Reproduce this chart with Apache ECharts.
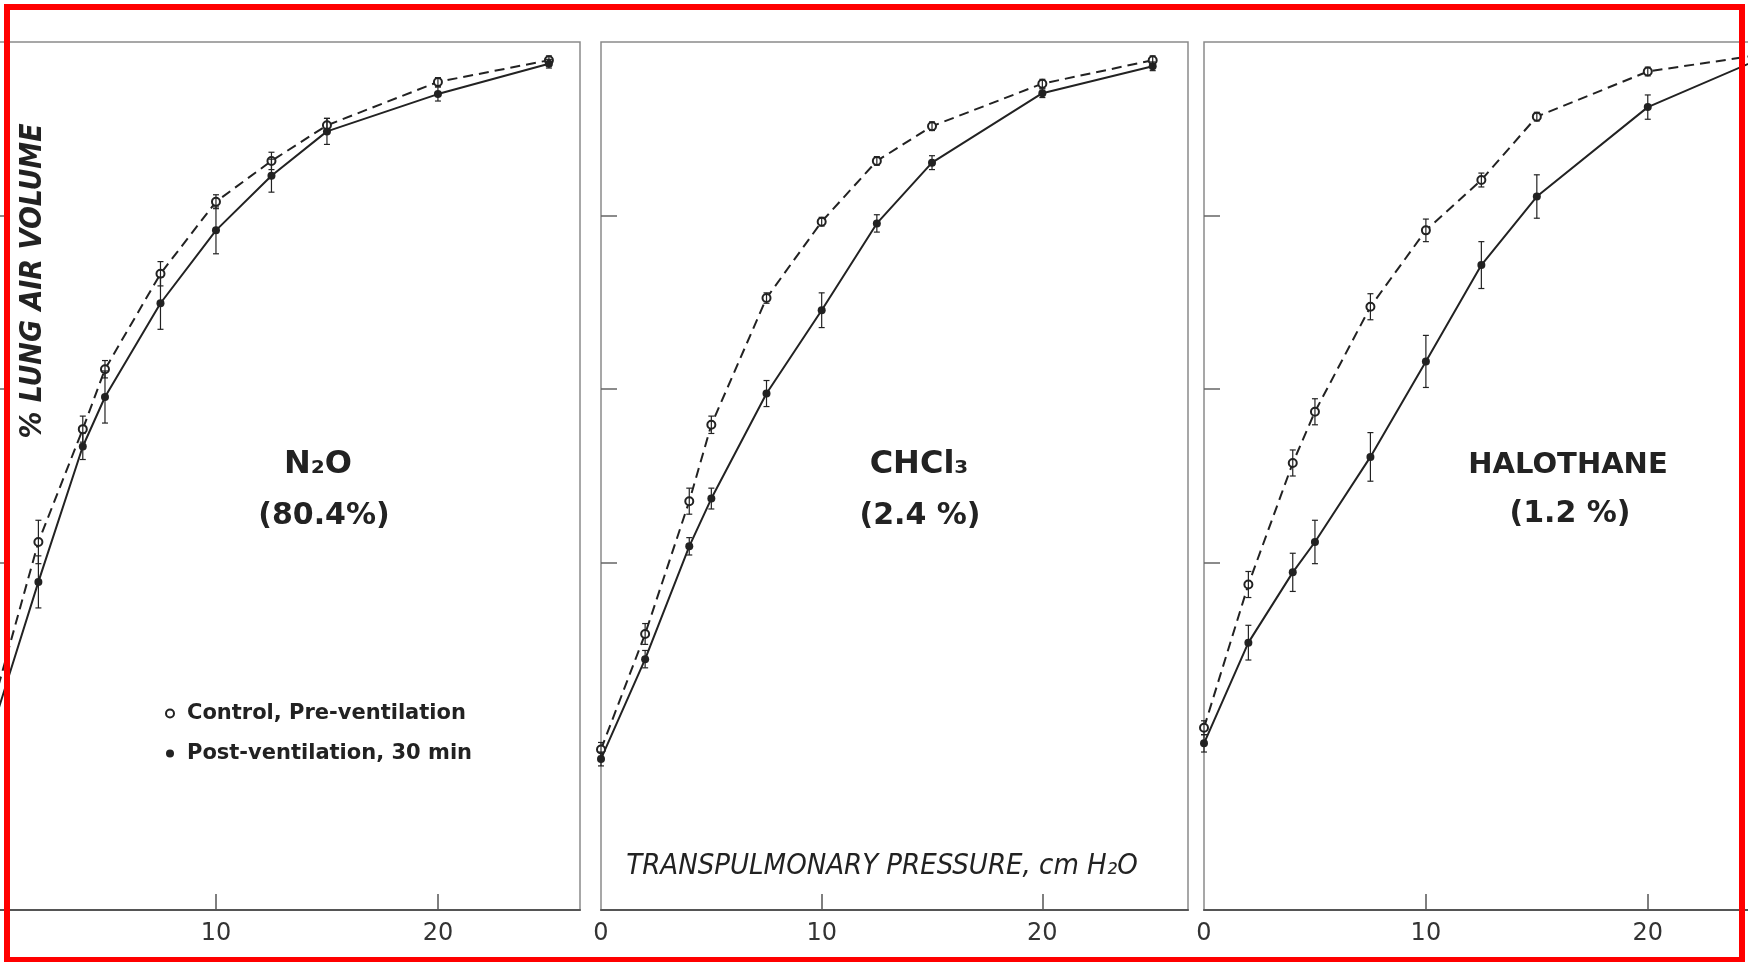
<!DOCTYPE html>
<html lang="en">
<head>
    <meta charset="UTF-8">
    <title>Lung air volume vs transpulmonary pressure</title>
    <style>
        html, body { margin: 0; padding: 0; background: #fff; }
    </style>
</head>
<body>
<script src="https://cdn.jsdelivr.net/npm/echarts@6/dist/echarts.min.js"></script>
<div id="main" style="width: 1748px;height:962px;"></div>
<script type="text/javascript">
    // transpulmonary pressure, cm H2O
    var pressure = [0, 2, 4, 5, 7.5, 10, 12.5, 15, 20, 25];

    // % lung air volume
    var n2oControl = [24.0, 42.4, 55.4, 62.3, 73.3, 81.6, 86.3, 90.4, 95.4, 97.9];
    var n2oPost = [21.5, 37.8, 53.4, 59.1, 69.9, 78.3, 84.6, 89.7, 94.0, 97.5];
    var n2oControlErr = [0, 2.5, 1.5, 1.0, 1.4, 0.8, 1.0, 0.8, 0.5, 0.5];
    var n2oPostErr = [0, 3.0, 1.5, 3.0, 3.0, 2.7, 1.9, 1.5, 0.8, 0.5];

    var chcl3Control = [18.5, 31.8, 47.1, 55.9, 70.5, 79.3, 86.3, 90.3, 95.2, 97.9];
    var chcl3Post = [17.4, 28.9, 41.9, 47.4, 59.5, 69.1, 79.1, 86.1, 94.1, 97.2];
    var chcl3ControlErr = [0.8, 1.2, 1.5, 1.0, 0.6, 0.5, 0.5, 0.5, 0.5, 0.5];
    var chcl3PostErr = [0.8, 1.0, 1.0, 1.2, 1.5, 2.0, 1.0, 0.8, 0.5, 0.5];

    var haloControl = [21.0, 37.5, 51.5, 57.4, 69.5, 78.3, 84.1, 91.4, 96.6, 98.5];
    var haloPost = [19.2, 30.8, 38.9, 42.4, 52.2, 63.2, 74.3, 82.2, 92.5, 98.0];
    var haloControlErr = [0.8, 1.5, 1.5, 1.5, 1.5, 1.3, 0.8, 0.5, 0.5, 0.5];
    var haloPostErr = [1.0, 2.0, 2.2, 2.5, 2.8, 3.0, 2.7, 2.5, 1.4, 1.0];

    var xTickLabels = [[10, 20], [0, 10, 20], [0, 10, 20]];
    var xTicks = [10, 20];
    var yTicks = [40, 60, 80];

    var legendNames = ['Control, Pre-ventilation', 'Post-ventilation, 30 min'];

    var ink = '#222';
    var frame = '#8a8a8a';
    var font = 'DejaVu Sans';
    var condensed = '"DejaVu Sans Condensed", "DejaVu Sans"';

    var myChart = echarts.init(document.getElementById('main'));

    function pairs(ys) {
        return pressure.map(function (x, i) { return [x, ys[i]]; });
    }

    function bars(ys, errs) {
        return pressure.map(function (x, i) { return [x, ys[i] - errs[i], ys[i] + errs[i]]; });
    }

    function errorBar(params, api) {
        var x = api.value(0), lo = api.value(1), hi = api.value(2);
        if (hi - lo <= 0) return;
        var a = api.coord([x, hi]);
        var b = api.coord([x, lo]);
        var s = { stroke: ink, lineWidth: 1.2 };
        return {
            type: 'group',
            children: [
                { type: 'line', shape: { x1: a[0], y1: a[1], x2: b[0], y2: b[1] }, style: s },
                { type: 'line', shape: { x1: a[0] - 3, y1: a[1], x2: a[0] + 3, y2: a[1] }, style: s },
                { type: 'line', shape: { x1: b[0] - 3, y1: b[1], x2: b[0] + 3, y2: b[1] }, style: s }
            ]
        };
    }

    // grids in pixels: panel 1 starts left of the picture, panel 3 runs past it
    var grids = [
        { left: -6, top: 42, width: 586, height: 868, xMax: 26.4 },
        { left: 601, top: 42, width: 587, height: 868, xMax: 26.6 },
        { left: 1204, top: 42, width: 588, height: 868, xMax: 26.5 }
    ];

    var panels = [
        [n2oControl, n2oPost, n2oControlErr, n2oPostErr],
        [chcl3Control, chcl3Post, chcl3ControlErr, chcl3PostErr],
        [haloControl, haloPost, haloControlErr, haloPostErr]
    ];

    var option = {
        backgroundColor: '#fff',
        animation: false,
        grid: [], xAxis: [], yAxis: [], series: [],
        legend: {
            orient: 'vertical',
            left: 160,
            top: 698,
            itemWidth: 24,
            itemHeight: 8,
            itemGap: 19,
            selectedMode: false,
            textStyle: { fontSize: 21, fontWeight: 'bold', color: ink, fontFamily: font },
            data: [
                { name: legendNames[0], icon: 'emptyCircle', itemStyle: { color: ink, borderWidth: 1.5 } },
                { name: legendNames[1], icon: 'circle', itemStyle: { color: ink } }
            ]
        },
        graphic: []
    };

    grids.forEach(function (g, k) {
        option.grid.push({
            left: g.left, top: g.top, width: g.width, height: g.height,
            outerBoundsMode: 'none', containLabel: false,
            show: true, borderColor: frame, borderWidth: 1.5, backgroundColor: 'transparent'
        });
        var labels = xTickLabels[k];
        option.xAxis.push({
            type: 'value', gridIndex: k, min: 0, max: g.xMax, interval: 10,
            splitLine: { show: false },
            axisLine: { show: true, lineStyle: { color: '#555', width: 2 } },
            axisTick: { inside: true, length: 16, customValues: xTicks, lineStyle: { color: '#555', width: 1.5 } },
            axisLabel: {
                margin: 12, fontSize: 24, color: '#333', fontFamily: font,
                formatter: function (v) { return labels.indexOf(v) >= 0 ? String(v) : ''; }
            }
        });
        option.yAxis.push({
            type: 'value', gridIndex: k, min: 0, max: 100, interval: 20,
            splitLine: { show: false },
            axisLine: { show: false },
            axisTick: { show: true, inside: true, length: 16, customValues: yTicks, lineStyle: { color: '#666', width: 1.5 } },
            axisLabel: { show: false }
        });

        var p = panels[k];
        option.series.push({
            name: legendNames[0], type: 'line', xAxisIndex: k, yAxisIndex: k,
            data: pairs(p[0]), symbol: 'emptyCircle', symbolSize: 8,
            itemStyle: { color: ink, borderWidth: 1.5 },
            lineStyle: { color: ink, width: 2, type: [10, 6] }, z: 3
        });
        option.series.push({
            name: legendNames[1], type: 'line', xAxisIndex: k, yAxisIndex: k,
            data: pairs(p[1]), symbol: 'circle', symbolSize: 8,
            itemStyle: { color: ink },
            lineStyle: { color: ink, width: 2 }, z: 3
        });
        option.series.push({
            type: 'custom', xAxisIndex: k, yAxisIndex: k,
            data: bars(p[0], p[2]), renderItem: errorBar,
            encode: { x: 0, y: [1, 2] }, z: 4
        });
        option.series.push({
            type: 'custom', xAxisIndex: k, yAxisIndex: k,
            data: bars(p[1], p[3]), renderItem: errorBar,
            encode: { x: 0, y: [1, 2] }, z: 4
        });
    });

    function label(text, x, y, size, extra) {
        var style = {
            text: text, x: x, y: y, fill: ink, fontSize: size, fontFamily: font,
            fontWeight: 'bold', textAlign: 'center', textVerticalAlign: 'middle'
        };
        for (var key in extra) style[key] = extra[key];
        return { type: 'text', style: style, z: 10 };
    }

    option.graphic = [
        label('N₂O', 318, 465, 32),
        label('(80.4%)', 324, 516, 30),
        label('CHCl₃', 919, 465, 32),
        label('(2.4 %)', 920, 516, 30),
        label('HALOTHANE', 1568, 465, 29),
        label('(1.2 %)', 1570, 514, 30),
        label('TRANSPULMONARY PRESSURE, cm H₂O', 882, 866, 29,
            { fontStyle: 'italic', fontWeight: 'normal', fontFamily: condensed }),
        {
            type: 'text', x: 33, y: 281, rotation: Math.PI / 2, z: 10,
            style: {
                text: '% LUNG AIR VOLUME', fill: ink, fontSize: 30, fontFamily: condensed,
                fontWeight: 'bold', fontStyle: 'italic', textAlign: 'center', textVerticalAlign: 'middle'
            }
        },
        {
            type: 'rect', z: 20,
            shape: { x: 7, y: 7, width: 1735, height: 953 },
            style: { fill: 'none', stroke: '#ff0000', lineWidth: 6 }
        }
    ];

    myChart.setOption(option);
</script>
</body>
</html>
